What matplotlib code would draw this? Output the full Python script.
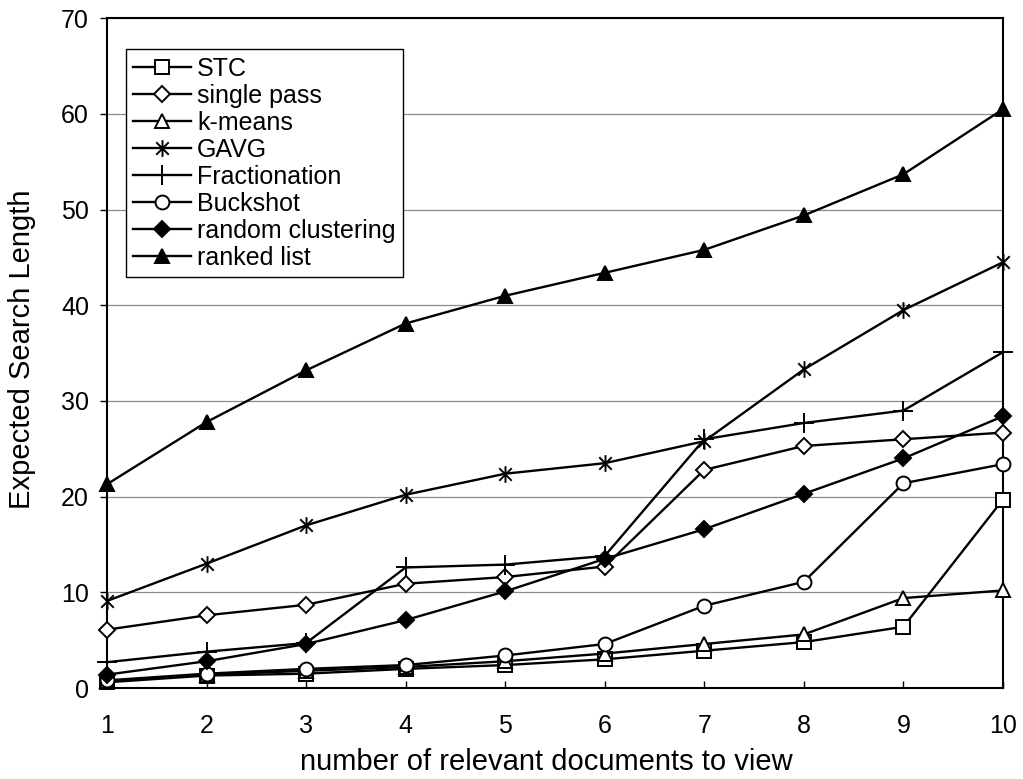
import numpy as np
import matplotlib
matplotlib.use('Agg')
import matplotlib.pyplot as plt
from matplotlib.path import Path

plt.rcParams['font.family'] = ['Liberation Sans', 'DejaVu Sans']

docs = [1, 2, 3, 4, 5, 6, 7, 8, 9, 10]
stc = [0.6, 1.3, 1.5, 2.0, 2.4, 3.0, 3.9, 4.8, 6.4, 19.7]
single_pass = [6.1, 7.6, 8.7, 10.9, 11.6, 12.7, 22.8, 25.3, 26.0, 26.7]
kmeans = [0.7, 1.4, 1.8, 2.2, 2.8, 3.6, 4.6, 5.6, 9.4, 10.2]
gavg = [9.1, 13.0, 17.0, 20.2, 22.4, 23.5, 25.8, 33.3, 39.5, 44.5]
fractionation = [2.7, 3.8, 4.7, 12.6, 12.9, 13.8, 26.0, 27.7, 29.0, 35.1]
buckshot = [0.8, 1.5, 2.0, 2.4, 3.4, 4.6, 8.6, 11.1, 21.4, 23.4]
random_clustering = [1.4, 2.8, 4.6, 7.1, 10.1, 13.5, 16.6, 20.3, 24.0, 28.4]
ranked_list = [21.3, 27.8, 33.2, 38.1, 41.0, 43.4, 45.8, 49.4, 53.7, 60.5]

# Excel-style asterisk: an X plus a vertical bar
ASTERISK = Path([(-0.75, -0.75), (0.75, 0.75), (-0.75, 0.75), (0.75, -0.75),
                 (0, -1), (0, 1)],
                [Path.MOVETO, Path.LINETO, Path.MOVETO, Path.LINETO,
                 Path.MOVETO, Path.LINETO])

series = [
   ('STC', stc, 's', 'white', 10),
   ('single pass', single_pass, 'D', 'white', 8),
   ('k-means', kmeans, '^', 'white', 10),
   ('GAVG', gavg, ASTERISK, 'black', 12),
   ('Fractionation', fractionation, '+', 'black', 14),
   ('Buckshot', buckshot, 'o', 'white', 10),
   ('random clustering', random_clustering, 'D', 'black', 8),
   ('ranked list', ranked_list, '^', 'black', 10),
]

fig = plt.figure(figsize=(10.23, 7.79), dpi=100)
ax = fig.add_axes([0.1046, 0.1168, 0.8758, 0.8597])

for name, vals, mk, fc, ms in series:
   ax.plot(docs, vals, color='black', linewidth=1.7, marker=mk,
           markerfacecolor=fc, markeredgecolor='black', markeredgewidth=1.4,
           markersize=ms, label=name, zorder=3, clip_on=False)

ax.set_xlim(1, 10)
ax.set_ylim(0, 70)
ax.set_xticks(docs)
ax.set_yticks(np.arange(0, 71, 10))
ax.yaxis.grid(True, color='#8c8c8c', linewidth=0.9)
ax.set_axisbelow(True)
for s in ax.spines.values():
   s.set_linewidth(1.5)
ax.tick_params(axis='x', direction='in', length=5, width=1, pad=19, labelsize=18)
ax.tick_params(axis='y', direction='out', length=5, width=1, pad=8, labelsize=18)

# axis titles are set larger than the tick labels, as in the original
ax.set_xlabel('number of relevant documents to view', fontsize=21, va='center')
ax.xaxis.set_label_coords(0.49, -0.110)
ax.set_ylabel('Expected Search Length', fontsize=21, va='center')
ax.yaxis.set_label_coords(-0.095, 0.506)

leg = ax.legend(loc='upper left', bbox_to_anchor=(0.021, 0.954), fontsize=18,
                frameon=True, fancybox=False, edgecolor='black',
                framealpha=1, borderpad=0.3, labelspacing=0.12,
                handlelength=2.3, handletextpad=0.25, borderaxespad=0)
leg.get_frame().set_linewidth(1)

fig.savefig('out.png', dpi=100)
